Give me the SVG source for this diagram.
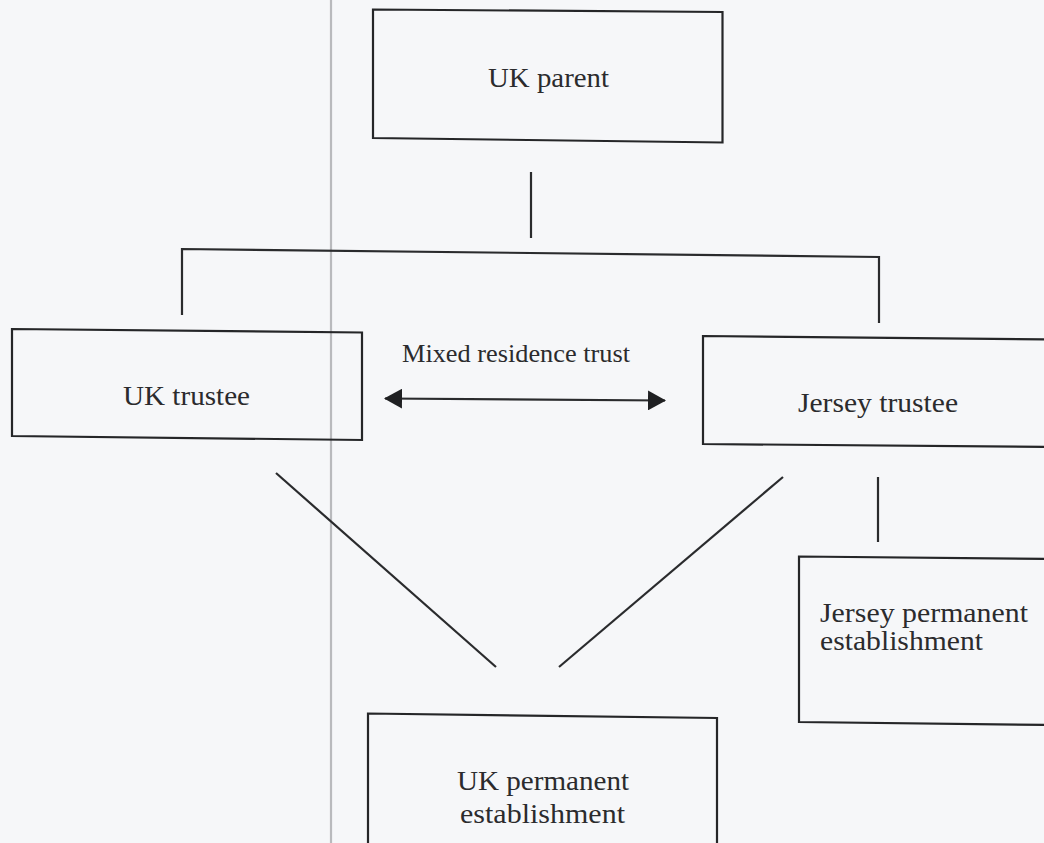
<svg xmlns="http://www.w3.org/2000/svg" width="1044" height="843" viewBox="0 0 1044 843">
<style>
.box{fill:none;stroke:#252628;stroke-width:2.2;stroke-linejoin:miter}
.ln{fill:none;stroke:#2a2b2d;stroke-width:2.2}
.t{font-family:"Liberation Serif","Times New Roman",serif;fill:#2b2b2d;font-size:28px}
.s{font-size:25px}
</style>
<defs>
<marker id="ah" viewBox="0 0 18 20" refX="17" refY="10" markerWidth="18" markerHeight="20" markerUnits="userSpaceOnUse" orient="auto-start-reverse">
<path d="M0,0 L18,10 L0,20 Z" fill="#1f2022"/>
</marker>
</defs>
<rect x="0" y="0" width="1044" height="843" fill="#f6f7f9"/>
<line x1="331" y1="0" x2="331" y2="843" stroke="#b9babd" stroke-width="2.2"/>

<g id="connectors">
<line class="ln" x1="531" y1="172" x2="531" y2="238"/>
<polyline class="ln" points="182,315 182,249 879,257 879,323"/>
<line class="ln" x1="276" y1="473" x2="496" y2="667"/>
<line class="ln" x1="783" y1="477" x2="559" y2="667"/>
<line class="ln" x1="878" y1="477" x2="878" y2="542"/>
<line class="ln" x1="385" y1="398.5" x2="665" y2="400.5" marker-start="url(#ah)" marker-end="url(#ah)"/>
<text class="t s" x="402" y="362" textLength="228" lengthAdjust="spacingAndGlyphs">Mixed residence trust</text>
</g>

<g id="uk-parent">
<polygon class="box" points="373,9.5 722.5,12 722.5,142.5 373,138"/>
<text class="t" x="488" y="87" textLength="121" lengthAdjust="spacingAndGlyphs">UK parent</text>
</g>

<g id="uk-trustee">
<polygon class="box" points="12,329 362,332.5 362,440 12,436"/>
<text class="t" x="123" y="405" textLength="127" lengthAdjust="spacingAndGlyphs">UK trustee</text>
</g>

<g id="jersey-trustee">
<polygon class="box" points="703,336 1050,339.5 1050,447 703,444"/>
<text class="t" x="798" y="412" textLength="160" lengthAdjust="spacingAndGlyphs">Jersey trustee</text>
</g>

<g id="jersey-pe">
<polygon class="box" points="1050,559 799,556.5 799,722 1050,725"/>
<text class="t" x="820" y="622" textLength="208" lengthAdjust="spacingAndGlyphs">Jersey permanent</text>
<text class="t" x="820" y="650" textLength="163" lengthAdjust="spacingAndGlyphs">establishment</text>
</g>

<g id="uk-pe">
<polyline class="box" points="368,850 368,713.5 717,718 717,850"/>
<text class="t" x="457" y="790" textLength="172" lengthAdjust="spacingAndGlyphs">UK permanent</text>
<text class="t" x="460" y="823" textLength="165" lengthAdjust="spacingAndGlyphs">establishment</text>
</g>
</svg>
